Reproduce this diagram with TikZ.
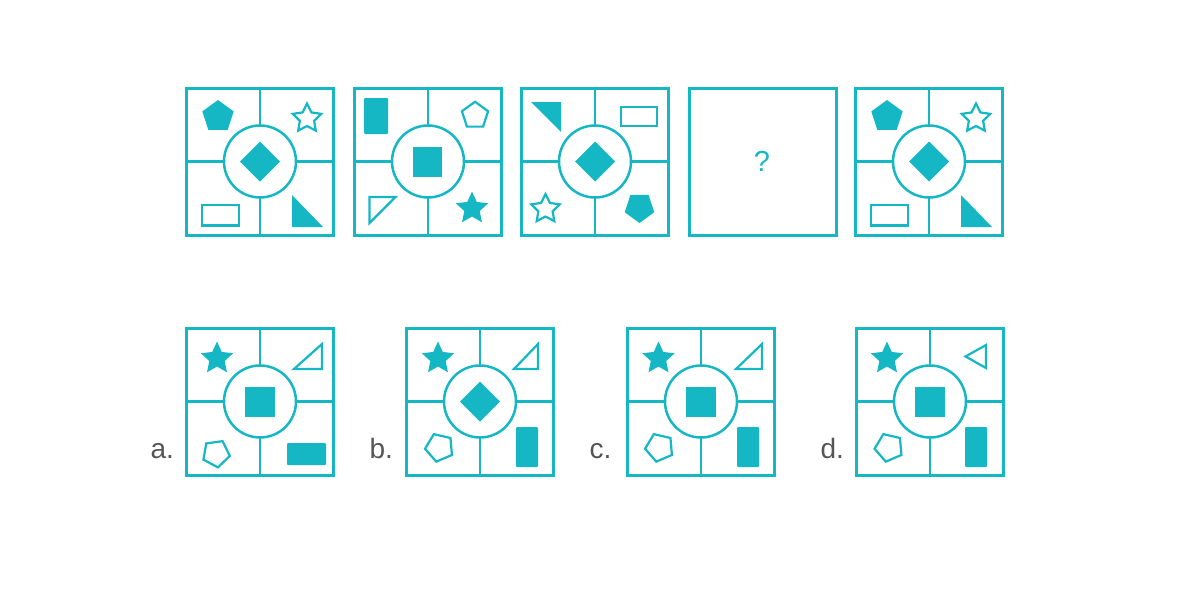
\documentclass[tikz,border=0pt]{standalone}
\usepackage{fontspec}
\setmainfont{Liberation Sans}
\usepackage{tikz}
\usetikzlibrary{shapes.geometric, calc}
\definecolor{tealbox}{RGB}{22,183,196}
\definecolor{labelgray}{RGB}{85,85,85}

\begin{document}
\begin{tikzpicture}[x=1pt, y=-1pt,
    frame/.style={draw=tealbox, line width=3pt},
    divider/.style={draw=tealbox, line width=2.5pt},
    solid shape/.style={fill=tealbox, draw=none},
    hollow shape/.style={draw=tealbox, line width=2.2pt, fill=none},
    pent/.style={regular polygon, regular polygon sides=5, inner sep=0pt, outer sep=0pt},
    starshape/.style={star, star points=5, inner sep=0pt, outer sep=0pt},
    optlabel/.style={anchor=base west, font=\fontsize{28}{30}\selectfont, text=labelgray}]
  \useasboundingbox (0,0) rectangle (1194,592);
  % panels with circle and cross
  \foreach \bx/\by in {185/86.5, 353/86.5, 520/86.5, 854/86.5,
                       185/326.5, 405/326.5, 626/326.5, 855/326.5} {
    \coordinate (c) at (\bx+75,\by+75);
    \draw[frame] (\bx+1.5,\by+1.5) rectangle (\bx+148.5,\by+148.5);
    \draw[divider] (c) circle[radius=36];
    \draw[divider] (c) ++(0,-36) -- ++(0,-37.5);
    \draw[divider] (c) ++(0,36) -- ++(0,37.5);
    \draw[divider] (c) ++(-36,0) -- ++(-37.5,0);
    \draw[divider] (c) ++(36,0) -- ++(37.5,0);
  }
  \draw[frame] (689.5,88) rectangle (836.5,235);
  \node[font=\fontsize{29}{30}\selectfont, text=tealbox] (qmark) at (762,161.5) {?};

  % figure 1 and figure 5
  \foreach \dx in {0, 669} {
    \node[pent, solid shape, minimum size=33pt] at (218+\dx,116.5) {};
    \node[starshape, star point ratio=2.0, hollow shape, minimum size=30pt] at (307+\dx,118.5) {};
    \draw[hollow shape] (202+\dx,205) rectangle (239+\dx,225.5);
    \fill[tealbox] (292+\dx,195) -- (292+\dx,227) -- (323+\dx,227) -- cycle;
    \fill[tealbox] (260+\dx,141.5) -- (280+\dx,161.5) -- (260+\dx,181.5) -- (240+\dx,161.5) -- cycle;
  }

  % figure 2
  \fill[tealbox, rounded corners=1pt] (364,98) rectangle (388,134);
  \node[pent, hollow shape, minimum size=27.5pt] (pentB) at (475,115.5) {};
  \fill[tealbox] (413,147) rectangle (442,177);
  \draw[hollow shape] (369.5,197) -- (395.5,197) -- (369.5,223) -- cycle;
  \node[starshape, star point ratio=2.1, solid shape, minimum size=34pt] (starB) at (472,208.5) {};

  % figure 3
  \fill[tealbox] (531,102) -- (561,102) -- (561,132) -- cycle;
  \draw[hollow shape] (621,107) rectangle (657,126);
  \fill[tealbox] (595,141.5) -- (615,161.5) -- (595,181.5) -- (575,161.5) -- cycle;
  \node[starshape, star point ratio=2.0, hollow shape, minimum size=30pt] (starC) at (545.5,209) {};
  \node[pent, solid shape, minimum size=31pt, rotate=180] (pentC) at (639.5,207.5) {};

  % option a
  \node[starshape, star point ratio=2.1, solid shape, minimum size=34pt] (starA) at (217,358.5) {};
  \draw[hollow shape] (294,369) -- (322,344) -- (322,369) -- cycle;
  \fill[tealbox] (245,387) rectangle (275,416.5);
  \node[pent, hollow shape, minimum size=28pt, rotate=188] (pentA) at (216,453.5) {};
  \fill[tealbox, rounded corners=1pt] (287,443) rectangle (326,465);
  \node[optlabel] (labA) at (147,458) {a.};

  % option b
  \node[starshape, star point ratio=2.1, solid shape, minimum size=34pt] (starOB) at (438,358.5) {};
  \draw[hollow shape] (514,369) -- (538,344) -- (538,369) -- cycle;
  \fill[tealbox] (480,381.5) -- (500,401.5) -- (480,421.5) -- (460,401.5) -- cycle;
  \node[pent, hollow shape, minimum size=29pt, rotate=95] (pentOB) at (439.5,447.5) {};
  \fill[tealbox, rounded corners=1pt] (516,427) rectangle (538,467);
  \node[optlabel] (labB) at (366,458) {b.};

  % option c
  \node[starshape, star point ratio=2.1, solid shape, minimum size=34pt] (starOC) at (658.5,358.5) {};
  \draw[hollow shape] (736,369) -- (762,344) -- (762,369) -- cycle;
  \fill[tealbox] (686,387) rectangle (715.5,416.5);
  \node[pent, hollow shape, minimum size=29pt, rotate=95] (pentOC) at (659.5,447.5) {};
  \fill[tealbox, rounded corners=1pt] (737,427) rectangle (759,467);
  \node[optlabel] (labC) at (586,458) {c.};

  % option d
  \node[starshape, star point ratio=2.1, solid shape, minimum size=34pt] (starOD) at (887,358.5) {};
  \draw[hollow shape] (965.5,356.5) -- (986,345) -- (986,368) -- cycle;
  \fill[tealbox] (915,387) rectangle (944.5,416.5);
  \node[pent, hollow shape, minimum size=29pt, rotate=95] (pentOD) at (889,447.5) {};
  \fill[tealbox, rounded corners=1pt] (965,427) rectangle (987,467);
  \node[optlabel] (labD) at (817,458) {d.};
\end{tikzpicture}
\end{document}
